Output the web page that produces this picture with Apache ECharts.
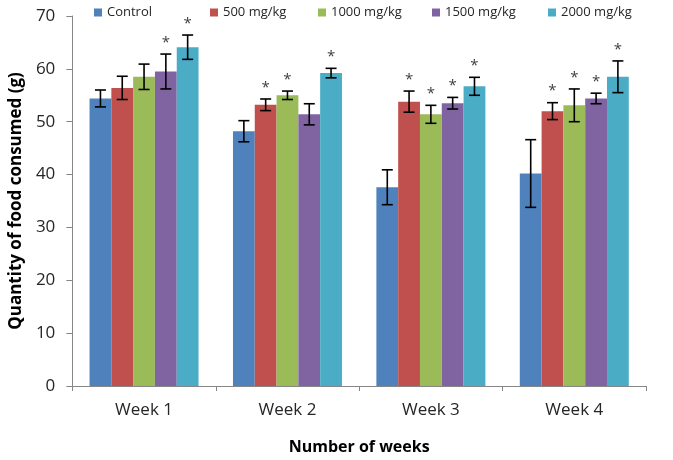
<!DOCTYPE html>
<html><head><meta charset="utf-8">
<script src="https://cdn.jsdelivr.net/npm/echarts@6/dist/echarts.min.js"></script>
<style>html,body{margin:0;padding:0;background:#fff}#c{width:673px;height:460px}</style>
</head><body><div id="c"></div>
<script>
const categories = ['Week 1', 'Week 2', 'Week 3', 'Week 4'];
const seriesNames = ['Control', '500 mg/kg', '1000 mg/kg', '1500 mg/kg', '2000 mg/kg'];
const control = [54.4, 48.2, 37.6, 40.2];
const mg500 = [56.4, 53.2, 53.8, 52.0];
const mg1000 = [58.5, 55.0, 51.4, 53.1];
const mg1500 = [59.5, 51.4, 53.5, 54.4];
const mg2000 = [64.1, 59.2, 56.7, 58.5];
const errControl = [1.6, 2.0, 3.3, 6.4];
const err500 = [2.2, 1.1, 2.0, 1.6];
const err1000 = [2.4, 0.8, 1.7, 3.1];
const err1500 = [3.3, 2.0, 1.1, 1.0];
const err2000 = [2.3, 0.9, 1.7, 3.0];
const starControl = [0, 0, 0, 0];
const star500 = [0, 1, 1, 1];
const star1000 = [0, 1, 1, 1];
const star1500 = [1, 0, 1, 1];
const star2000 = [1, 1, 1, 1];
const yTicks = [0, 10, 20, 30, 40, 50, 60, 70];

const values = [control, mg500, mg1000, mg1500, mg2000];
const errs = [errControl, err500, err1000, err1500, err2000];
const stars = [starControl, star500, star1000, star1500, star2000];
const colors = ['#4F81BD', '#C0504D', '#9BBB59', '#8064A2', '#4BACC6'];
const CAT_GAP = 0.24;
const FONT = 'Open Sans';

const series = [];
values.forEach((vals, k) => {
  series.push({
    name: seriesNames[k], type: 'bar', data: vals,
    barGap: '0%', barCategoryGap: (CAT_GAP * 100) + '%',
    itemStyle: { color: colors[k] }, emphasis: { disabled: true }
  });
});
values.forEach((vals, k) => {
  series.push({
    name: 'err' + k, type: 'custom', z: 10,
    data: vals.map((v, i) => [i, v, errs[k][i], stars[k][i]]),
    renderItem: function (params, api) {
      const ci = api.value(0), v = api.value(1), e = api.value(2), s = api.value(3);
      const band = api.size([1, 0])[0];
      const bw = band * (1 - CAT_GAP) / 5;
      const c = api.coord([ci, v]);
      const x = c[0] - 2.5 * bw + bw * (k + 0.5);
      const top = api.coord([ci, v + e])[1];
      const bot = api.coord([ci, v - e])[1];
      const st = { stroke: '#000', lineWidth: 1.6 };
      const ch = [
        { type: 'line', shape: { x1: x, y1: top, x2: x, y2: bot }, style: st },
        { type: 'line', shape: { x1: x - 5.5, y1: top, x2: x + 5.5, y2: top }, style: st },
        { type: 'line', shape: { x1: x - 5.5, y1: bot, x2: x + 5.5, y2: bot }, style: st }
      ];
      if (s) {
        ch.push({ type: 'text', style: { text: '*', x: x, y: top - 4, align: 'center', verticalAlign: 'bottom',
          font: '15px "' + FONT + '"', fill: '#404040' } });
      }
      return { type: 'group', children: ch };
    }
  });
});

const legends = seriesNames.map((n, k) => ({
  data: [n], top: 1, left: [89, 205, 313, 427, 543][k],
  itemWidth: 8, itemHeight: 8, icon: 'rect',
  textStyle: { fontFamily: FONT, fontSize: 13, color: '#262626' }
}));

const chart = echarts.init(document.getElementById('c'), null, { renderer: 'canvas' });
chart.setOption({
  animation: false,
  color: colors,
  legend: legends,
  grid: { left: 68, right: 27, top: 16, bottom: 68 },
  xAxis: {
    type: 'category', data: categories,
    name: 'Number of weeks', nameLocation: 'middle', nameGap: 53,
    nameTextStyle: { fontFamily: FONT, fontSize: 16, fontWeight: 'bold', color: '#000' },
    axisLine: { lineStyle: { color: '#868686', width: 1 } },
    axisTick: { show: true, length: 5, lineStyle: { color: '#868686' } },
    axisLabel: { fontFamily: FONT, fontSize: 17, color: '#262626', margin: 16 }
  },
  yAxis: {
    type: 'value', min: 0, max: 70, interval: 10,
    name: 'Quantity of food consumed (g)', nameLocation: 'middle', nameGap: 46,
    nameTextStyle: { fontFamily: FONT, fontSize: 17, fontWeight: 'bold', color: '#000' },
    axisLine: { show: true, lineStyle: { color: '#868686', width: 1 } },
    axisTick: { show: true, length: 6, lineStyle: { color: '#868686' } },
    splitLine: { show: false },
    axisLabel: { fontFamily: FONT, fontSize: 17, color: '#262626', margin: 17,
      formatter: v => yTicks.includes(v) ? String(v) : '' }
  },
  series: series
});
</script></body></html>
